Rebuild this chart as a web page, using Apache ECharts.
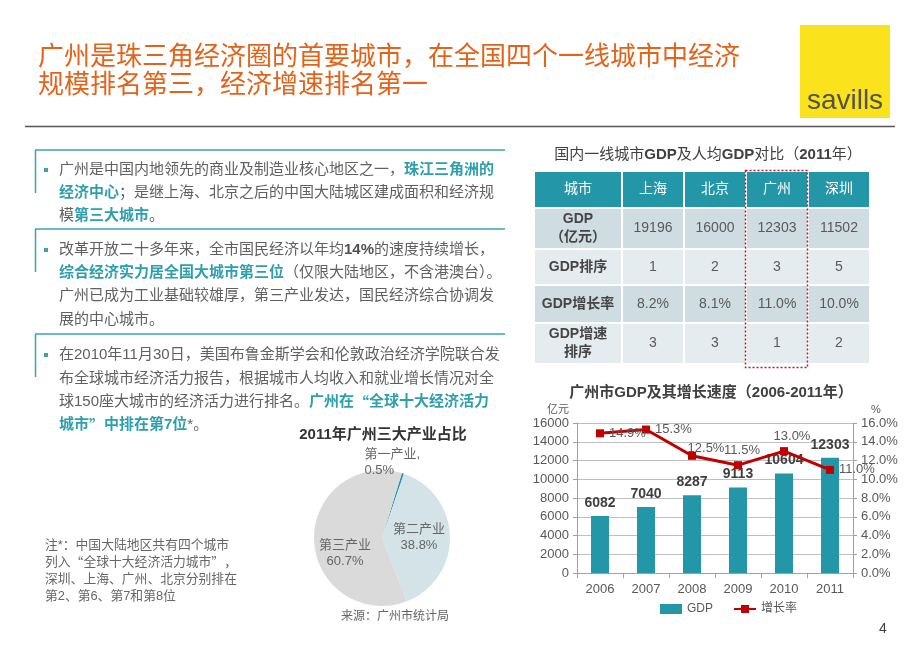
<!DOCTYPE html>
<html><head><meta charset="utf-8">
<script src="https://cdn.jsdelivr.net/npm/echarts@6/dist/echarts.min.js"></script>
<style>html,body{margin:0;padding:0;background:#fff}#c{width:920px;height:651px}</style>
</head><body><div id="c"></div>
<script>
// ---- data ----
const tableCities = ['上海', '北京', '广州', '深圳'];
const tableHeader = '城市';
const tableRowNames = ['GDP\n（亿元）', 'GDP排序', 'GDP增长率', 'GDP增速\n排序'];
const cityGdp = [19196, 16000, 12303, 11502];
const cityGdpRank = [1, 2, 3, 5];
const cityGrowth = [8.2, 8.1, 11.0, 10.0];
const cityGrowthRank = [3, 3, 1, 2];
const years = ['2006', '2007', '2008', '2009', '2010', '2011'];
const gzGdp = [6082, 7040, 8287, 9113, 10604, 12303];
const gzGrowth = [14.9, 15.3, 12.5, 11.5, 13.0, 11.0];
const industryNames = ['第一产业', '第二产业', '第三产业'];
const industryShares = [0.5, 38.8, 60.7];

const FONT = '"Liberation Sans","Noto Sans CJK SC",sans-serif';
const CJK = '"Noto Sans CJK SC",sans-serif';
const TEAL = '#2397A8';
const HL = '#2E9FAE';
const BODY = '#606060';

const chart = echarts.init(document.getElementById('c'));

const g = [];
function txt(x, y, text, style) {
  g.push({type: 'text', x: x, y: y, style: Object.assign({text: text, fontFamily: FONT}, style)});
}
function line(x1, y1, x2, y2, stroke, w, dash) {
  g.push({type: 'line', shape: {x1, y1, x2, y2}, style: {stroke, lineWidth: w, lineDash: dash || null}});
}
function rect(x, y, w, h, fill) {
  g.push({type: 'rect', shape: {x, y, width: w, height: h}, style: {fill}});
}

// title
txt(38, 58, '广州是珠三角经济圈的首要城市，在全国四个一线城市中经济', {fill: '#E4631B', fontSize: 26, verticalAlign: 'middle'});
txt(38, 86, '规模排名第三，经济增速排名第一', {fill: '#E4631B', fontSize: 26, verticalAlign: 'middle'});
// logo
rect(800, 25, 90, 93, '#FAE31C');
txt(845, 101, 'savills', {fill: '#55524A', fontSize: 28, fontFamily: '"Liberation Sans",Arial,sans-serif', align: 'center', verticalAlign: 'middle'});
line(25, 126.5, 895, 126.5, '#555', 1.5);

// rich text with quotes in CJK font
function mkRich(size, body) {
  return {
    n: {fontSize: size, fill: body, fontFamily: FONT},
    nq: {fontSize: size, fill: body, fontFamily: CJK},
    h: {fontSize: size, fill: HL, fontWeight: 'bold', fontFamily: FONT},
    hq: {fontSize: size, fill: HL, fontWeight: 'bold', fontFamily: CJK},
    b: {fontSize: size, fill: '#505050', fontWeight: 'bold', fontFamily: FONT},
    bq: {fontSize: size, fill: '#505050', fontWeight: 'bold', fontFamily: CJK}
  };
}
function segStr(segs) {
  let out = '';
  segs.forEach(p => {
    const parts = p[1].split(/([“”])/);
    parts.forEach(t => {
      if (!t) return;
      const q = (t === '“' || t === '”');
      out += '{' + p[0] + (q ? 'q' : '') + '|' + t + '}';
    });
  });
  return out;
}
const rich15 = mkRich(15, BODY);
function rline(y, segs) {
  g.push({type: 'text', x: 59, y: y, style: {text: segStr(segs), rich: rich15, verticalAlign: 'middle', fontFamily: FONT, fontSize: 15}});
}
function box(y) {
  line(35, y, 505, y, '#3BA3B0', 1.5);
  line(35.5, y, 35.5, y + 43, '#3BA3B0', 1.5);
}
box(150); box(229); box(334);
[170, 250, 355].forEach(y => rect(44, y - 2, 4, 4, '#3BA3B0'));
rline(170, [['n', '广州是中国内地领先的商业及制造业核心地区之一，'], ['h', '珠江三角洲的']]);
rline(193, [['h', '经济中心'], ['n', '；是继上海、北京之后的中国大陆城区建成面积和经济规']]);
rline(216, [['n', '模'], ['h', '第三大城市'], ['n', '。']]);
rline(250, [['n', '改革开放二十多年来，全市国民经济以年均'], ['b', '14%'], ['n', '的速度持续增长，']]);
rline(273, [['h', '综合经济实力居全国大城市第三位'], ['n', '（仅限大陆地区，不含港澳台）。']]);
rline(296, [['n', '广州已成为工业基础较雄厚，第三产业发达，国民经济综合协调发']]);
rline(320, [['n', '展的中心城市。']]);
rline(355, [['n', '在2010年11月30日，美国布鲁金斯学会和伦敦政治经济学院联合发']]);
rline(379, [['n', '布全球城市经济活力报告，根据城市人均收入和就业增长情况对全']]);
rline(402, [['n', '球150座大城市的经济活力进行排名。'], ['h', '广州在“全球十大经济活力']]);
rline(425, [['h', '城市”中排在第7位'], ['n', '*。']]);

// note
const rich13 = mkRich(12.8, '#666');
['注*：中国大陆地区共有四个城市', '列入“全球十大经济活力城市”，', '深圳、上海、广州、北京分别排在', '第2、第6、第7和第8位']
  .forEach((t, i) => g.push({type: 'text', x: 45, y: 545 + i * 17, style: {text: segStr([['n', t]]), rich: rich13, verticalAlign: 'middle', fontFamily: FONT, fontSize: 12.8}}));

// table
g.push({type: 'text', x: 708, y: 155, style: {
  text: '{n|国内一线城市}{b|GDP}{n|及人均}{b|GDP}{n|对比（}{b|2011}{n|年）}',
  align: 'center', verticalAlign: 'middle',
  rich: {n: {fontSize: 15, fill: '#404040', fontFamily: FONT}, b: {fontSize: 15, fill: '#404040', fontWeight: 'bold', fontFamily: FONT}}
}});
const colX = [535, 622, 684, 746, 808, 870];
const rowY = [[172, 207], [209, 248], [250, 284], [286, 322], [324, 363]];
const rowFill = [TEAL, '#CFDCE2', '#E5ECEF', '#CFDCE2', '#E5ECEF'];
const rowsVals = [
  [tableHeader].concat(tableCities),
  [tableRowNames[0]].concat(cityGdp.map(String)),
  [tableRowNames[1]].concat(cityGdpRank.map(String)),
  [tableRowNames[2]].concat(cityGrowth.map(v => v.toFixed(1) + '%')),
  [tableRowNames[3]].concat(cityGrowthRank.map(String))
];
rowY.forEach((r, ri) => {
  for (let ci = 0; ci < 5; ci++) {
    const x0 = colX[ci] + (ci ? 1 : 0), x1 = colX[ci + 1] - 1;
    rect(x0, r[0], x1 - x0, r[1] - r[0], rowFill[ri]);
    const isHead = ri === 0, isFirst = ci === 0;
    txt((x0 + x1) / 2, (r[0] + r[1]) / 2, rowsVals[ri][ci], {
      align: 'center', verticalAlign: 'middle', fontSize: 14, lineHeight: 18,
      fill: isHead ? '#fff' : (isFirst ? '#454545' : '#5a5a5a'),
      fontWeight: (!isHead && isFirst) ? 'bold' : 'normal'
    });
  }
});
g.push({type: 'rect', shape: {x: 745.5, y: 170.5, width: 62, height: 197}, style: {fill: null, stroke: '#C8102E', lineWidth: 1.5, lineDash: [2, 2]}, z: 10});

// chart titles
txt(711, 393, '广州市GDP及其增长速度（2006-2011年）', {fill: '#404040', fontSize: 15, fontWeight: 'bold', align: 'center', verticalAlign: 'middle'});
txt(383, 435, '2011年广州三大产业占比', {fill: '#333', fontSize: 15, fontWeight: 'bold', align: 'center', verticalAlign: 'middle'});
txt(395, 617, '来源：广州市统计局', {fill: '#666', fontSize: 12, align: 'center', verticalAlign: 'middle'});
txt(883, 629, '4', {fill: '#404040', fontSize: 14, align: 'center', verticalAlign: 'middle'});

const growthLabelPos = [
  {position: 'right', offset: [0, 0]},
  {position: 'right', offset: [0, 0]},
  {position: 'top', offset: [14, 8]},
  {position: 'top', offset: [4, 1]},
  {position: 'top', offset: [8, 1]},
  {position: 'right', offset: [0, 0]}
];

const option = {
  backgroundColor: '#fff',
  animation: false,
  textStyle: {fontFamily: FONT},
  grid: {left: 577, right: 67, top: 423, bottom: 78},
  legend: {
    left: 655, top: 598, itemGap: 20, itemWidth: 22, itemHeight: 10,
    textStyle: {fontSize: 12, color: '#595959'},
    data: [{name: 'GDP', icon: 'rect'}, {name: '增长率'}]
  },
  xAxis: {
    type: 'category', data: years,
    axisLine: {lineStyle: {color: '#A0A0A0'}},
    axisTick: {show: true, length: 5, lineStyle: {color: '#A0A0A0'}},
    axisLabel: {fontSize: 13, color: '#595959', margin: 10}
  },
  yAxis: [
    {type: 'value', min: 0, max: 16000, interval: 2000, name: '亿元', nameGap: 8,
     nameTextStyle: {fontSize: 11, color: '#595959', align: 'right', padding: [0, 8, 0, 0]},
     axisLine: {show: true, lineStyle: {color: '#A0A0A0'}},
     axisTick: {show: true, length: 4, lineStyle: {color: '#A0A0A0'}},
     axisLabel: {fontSize: 13, color: '#595959', margin: 8, formatter: v => String(v)},
     splitLine: {lineStyle: {color: '#BFBFBF'}}},
    {type: 'value', min: 0, max: 16, interval: 2, name: '%', nameGap: 8,
     nameTextStyle: {fontSize: 11, color: '#595959', align: 'left', padding: [0, 0, 0, 18]},
     axisLine: {show: true, lineStyle: {color: '#A0A0A0'}},
     axisTick: {show: true, length: 4, lineStyle: {color: '#A0A0A0'}},
     axisLabel: {fontSize: 13, color: '#595959', margin: 8, formatter: v => v.toFixed(1) + '%'},
     splitLine: {show: false}}
  ],
  series: [
    {name: 'GDP', type: 'bar', data: gzGdp, barWidth: 18, itemStyle: {color: TEAL},
     label: {show: true, position: 'top', distance: 6, fontSize: 14, fontWeight: 'bold', color: '#404040'}},
    {name: '增长率', type: 'line', yAxisIndex: 1, z: 5,
     data: gzGrowth.map((v, i) => ({value: v, label: growthLabelPos[i]})),
     symbol: 'rect', symbolSize: 8,
     lineStyle: {color: '#C00000', width: 3}, itemStyle: {color: '#C00000'},
     label: {show: true, fontSize: 13, color: '#595959', formatter: p => p.value.toFixed(1) + '%'}},
    {name: '产业', type: 'pie', center: [382, 538], radius: 68, startAngle: 73,
     clockwise: true, avoidLabelOverlap: false,
     data: industryNames.map((n, i) => ({name: n, value: industryShares[i]})),
     color: [TEAL, '#D3E3E8', '#DADADA'],
     itemStyle: {borderWidth: 0},
     labelLine: {show: false},
     label: {fontSize: 13, color: '#666', lineHeight: 16},
     emphasis: {disabled: true}}
  ],
  graphic: g
};
// per-slice labels
option.series[2].data[0].label = {position: 'outside', distance: 4, offset: [-78, 3], formatter: p => p.name + ',\n' + p.value.toFixed(1) + '%', align: 'center'};
option.series[2].data[1].label = {position: 'inside', formatter: p => p.name + '\n' + p.value.toFixed(1) + '%'};
option.series[2].data[2].label = {position: 'inside', offset: [0, 14], formatter: p => p.name + '\n' + p.value.toFixed(1) + '%'};
chart.setOption(option);
</script></body></html>
